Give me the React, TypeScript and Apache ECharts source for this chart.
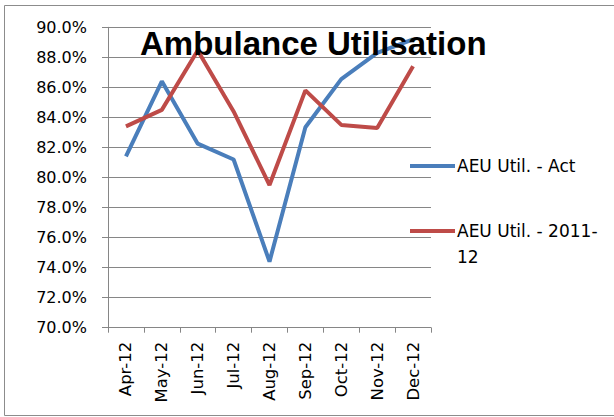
import React, { useEffect, useRef } from "react";
import * as echarts from "echarts";

const categories = ["Apr-12", "May-12", "Jun-12", "Jul-12", "Aug-12", "Sep-12", "Oct-12", "Nov-12", "Dec-12"];
const actual = [81.4, 86.4, 82.25, 81.2, 74.4, 83.35, 86.55, 88.3, 89.2];
const prior = [83.4, 84.5, 88.45, 84.4, 79.5, 85.8, 83.5, 83.3, 87.4];
const seriesNames = ["AEU Util. - Act", "AEU Util. - 2011-12"];
const titleText = "Ambulance Utilisation";

export default function App() {
  const ref = useRef<HTMLDivElement>(null);
  useEffect(() => {
    const chart = echarts.init(ref.current!, null, { renderer: "svg" });
    const font = "DejaVu Sans";
    chart.setOption({
      animation: false,
      backgroundColor: "#ffffff",
      title: {
        text: titleText,
        left: 135,
        top: 22,
        textStyle: { fontFamily: "Liberation Sans", fontWeight: "bold", fontSize: 33, color: "#000" },
      },
      graphic: [
        {
          type: "rect",
          shape: { x: 4.5, y: 5.5, width: 700, height: 410 },
          style: { fill: "none", stroke: "#8c8c8c", lineWidth: 1 },
          z: -1,
        },
      ],
      legend: {
        orient: "vertical",
        left: 405,
        top: 148,
        itemGap: 13,
        icon: "rect",
        itemWidth: 45,
        itemHeight: 4,
        data: seriesNames,
        formatter: (name: string) =>
          name === seriesNames[1] ? "\nAEU Util. - 2011-\n12" : name,
        textStyle: { fontFamily: font, fontSize: 17, color: "#000", lineHeight: 26, padding: [0, 0, 0, -3] },
      },
      grid: { left: 108, right: 183, top: 27.3, bottom: 89.3, containLabel: false },
      xAxis: {
        type: "category",
        data: categories,
        boundaryGap: true,
        axisLine: { lineStyle: { color: "#868686", width: 1 } },
        axisTick: { show: true, length: 5, lineStyle: { color: "#868686" } },
        axisLabel: { rotate: 90, margin: 14, fontFamily: font, fontSize: 16.5, color: "#000" },
      },
      yAxis: {
        type: "value",
        min: 70,
        max: 90,
        interval: 2,
        axisLine: { show: true, lineStyle: { color: "#868686", width: 1 } },
        axisTick: { show: true, length: 6, lineStyle: { color: "#868686" } },
        splitLine: { lineStyle: { color: "#868686", width: 1.2 } },
        axisLabel: {
          margin: 21,
          fontFamily: font,
          fontSize: 16,
          color: "#000",
          formatter: (v: number) => v.toFixed(1) + "%",
        },
      },
      series: [
        {
          name: seriesNames[0],
          type: "line",
          data: actual,
          symbol: "none",
          lineStyle: { width: 4, color: "#4A7EBB" },
          itemStyle: { color: "#4A7EBB" },
          z: 2,
        },
        {
          name: seriesNames[1],
          type: "line",
          data: prior,
          symbol: "none",
          lineStyle: { width: 4, color: "#BE4B48" },
          itemStyle: { color: "#BE4B48" },
          z: 3,
        },
      ],
    });
    return () => chart.dispose();
  }, []);
  return <div ref={ref} style={{ width: 614, height: 417, position: "absolute", left: 0, top: 0 }} />;
}
